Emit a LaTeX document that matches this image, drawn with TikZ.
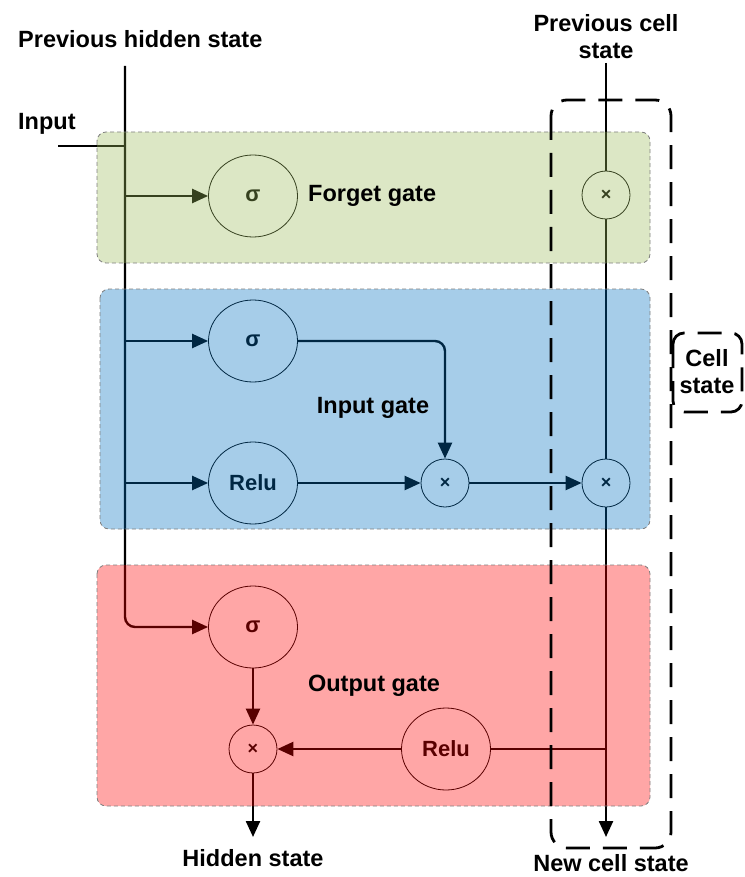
\documentclass[tikz,border=0pt]{standalone}
\usepackage{fontspec}
\setmainfont{Liberation Sans}
\usetikzlibrary{arrows.meta,shapes.geometric}

\definecolor{forgetfill}{HTML}{9BBB59}
\definecolor{inputfill}{HTML}{0070C0}
\definecolor{outputfill}{HTML}{FF0000}
\definecolor{gateedge}{HTML}{7F7F7F}

\tikzset{
  lbl/.style={font=\fontsize{23.5}{27}\selectfont\bfseries, align=center, inner sep=0pt},
  actfn/.style={ellipse, draw, line width=0.8pt, minimum width=89pt, minimum height=82pt,
    inner sep=0pt, font=\fontsize{22}{26}\selectfont\bfseries},
  mult/.style={circle, draw, line width=0.8pt, minimum size=48pt, inner sep=0pt,
    font=\fontsize{18}{20}\selectfont\bfseries},
  wire/.style={line width=2.4pt},
  flow/.style={wire, -{Triangle[length=16pt,width=14pt]}},
  gatebox/.style={fill opacity=0.35, draw opacity=0},
  gateedge/.style={draw=gateedge, line width=0.8pt, dash pattern=on 4pt off 3pt, rounded corners=9pt},
  cellbox/.style={line width=2.8pt, dash pattern=on 24pt off 13pt},
}

\begin{document}
\begin{tikzpicture}[x=1pt,y=-1pt]
\useasboundingbox (0,0) rectangle (744,877);

% activation and product nodes
\node[actfn] (fs) at (253,196) {σ};
\node[mult]  (fx) at (606,195) {×};
\node[actfn] (is) at (253,341) {σ};
\node[actfn] (ir) at (253,483) {Relu};
\node[mult]  (ix) at (445,483) {×};
\node[mult]  (cx) at (606,483) {×};
\node[actfn] (os) at (253,627) {σ};
\node[mult]  (ox) at (253,749) {×};
\node[actfn] (orl) at (446,749) {Relu};

% free ends and junctions
\coordinate (htop) at (125,66);
\coordinate (hcorner) at (125,627);
\coordinate (inp) at (58,146);
\coordinate (inj) at (125,146);
\coordinate (b1) at (125,196);
\coordinate (b2) at (125,341);
\coordinate (b3) at (125,483);
\coordinate (ctop) at (606,63);
\coordinate (cb) at (606,749);
\coordinate (cend) at (606,837);
\coordinate (hend) at (253,837);

% hidden state / input bus
\draw[flow, rounded corners=10pt] (htop) -- (hcorner) -- (os.west);
\draw[wire] (inp) -- (inj);
\draw[flow] (b1) -- (fs.west);
\draw[flow] (b2) -- (is.west);
\draw[flow] (b3) -- (ir.west);

% input gate
\draw[flow, rounded corners=10pt] (is.east) -| (ix.north);
\draw[flow] (ir.east) -- (ix.west);
\draw[flow] (ix.east) -- (cx.west);

% cell state line
\draw[wire] (ctop) -- (fx.north);
\draw[wire] (fx.south) -- (cx.north);
\draw[flow] (cx.south) -- (cend);

% output gate
\draw[flow] (os.south) -- (ox.north);
\draw[wire] (cb) -- (orl.east);
\draw[flow] (orl.west) -- (ox.east);
\draw[flow] (ox.south) -- (hend);

% translucent gate panels
\fill[gatebox, fill=forgetfill, rounded corners=9pt] (97,132) rectangle (650,263);
\fill[gatebox, fill=inputfill, rounded corners=9pt] (100,289) rectangle (650,529);
\fill[gatebox, fill=outputfill, rounded corners=9pt] (97,565) rectangle (650,806);
\draw[gateedge] (97,132) rectangle (650,263);
\draw[gateedge] (100,289) rectangle (650,529);
\draw[gateedge] (97,565) rectangle (650,806);

% gate names
\node[lbl, anchor=west] (fgl) at (308,196) {Forget gate};
\node[lbl] (igl) at (373,408) {Input gate};
\node[lbl] (ogl) at (374,686) {Output gate};

% cell state frame
\draw[cellbox, rounded corners=16pt] (551,100) rectangle (671,848);
\draw[cellbox, rounded corners=11pt] (673,333) rectangle (742,412);
\node[lbl] (csl) at (707,372) {Cell\\state};

% outer labels
\node[lbl, anchor=west] (phl) at (18,39) {Previous hidden state};
\node[lbl, anchor=west] (inl) at (18,124) {Input};
\node[lbl] (pcl) at (606,37) {Previous cell\\state};
\node[lbl] (hsl) at (253,858) {Hidden state};
\node[lbl] (ncl) at (611,863) {New cell state};
\end{tikzpicture}
\end{document}
